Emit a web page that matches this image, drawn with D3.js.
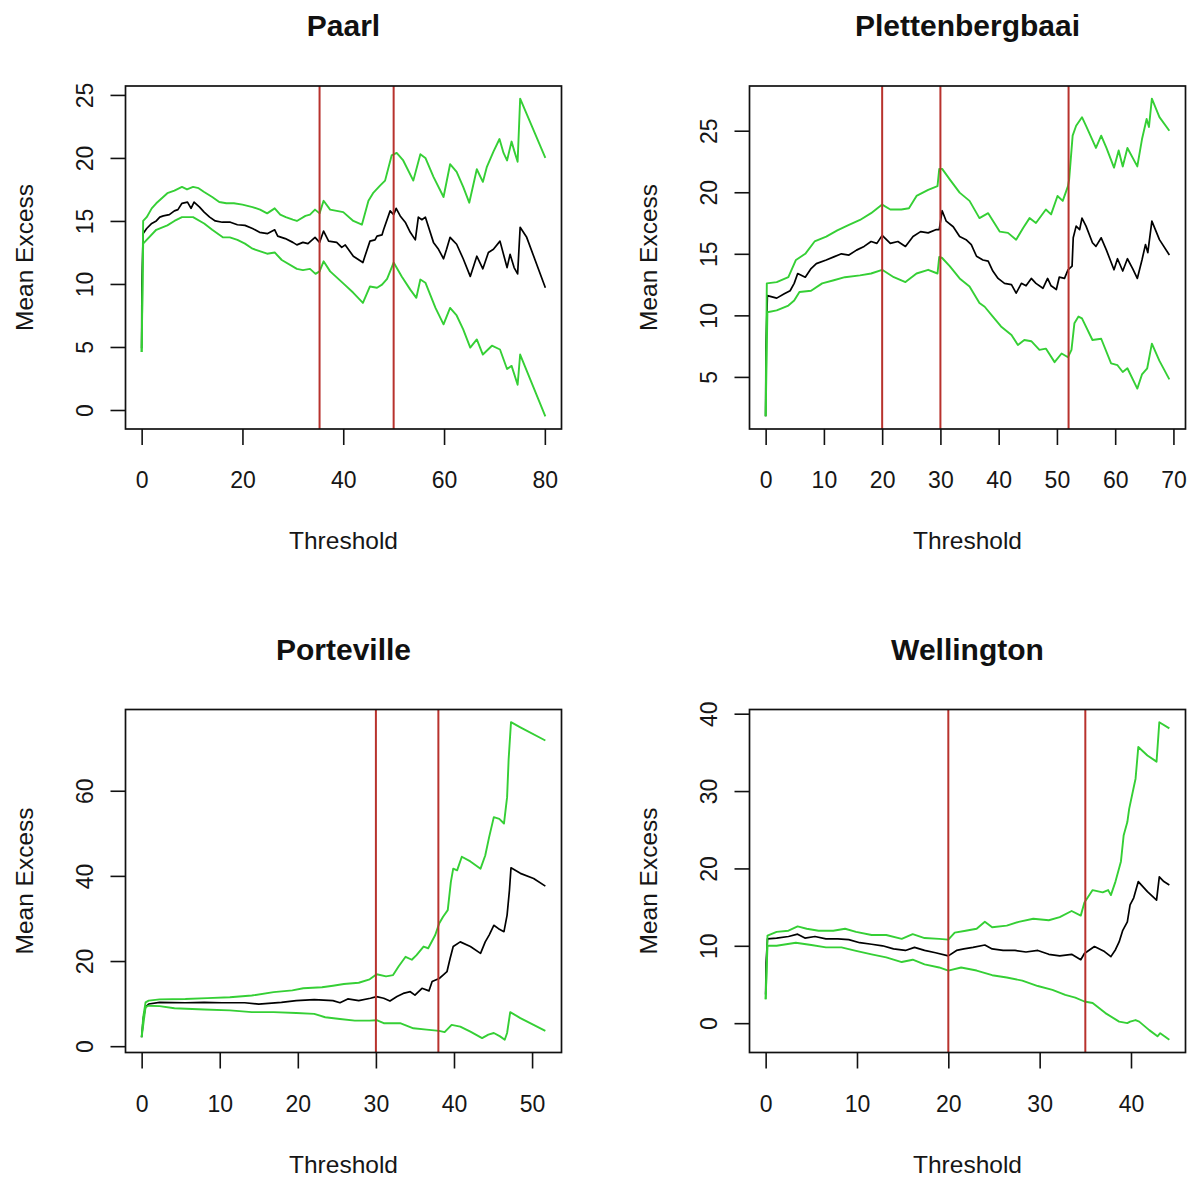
<!DOCTYPE html>
<html>
<head>
<meta charset="utf-8">
<script src="https://cdn.jsdelivr.net/npm/d3@7"></script>
<style>
  html, body { margin: 0; padding: 0; background: #fff; overflow: hidden; }
  text { font-family: "Liberation Sans", Arial, Helvetica, sans-serif; }
</style>
</head>
<body>
<script>
// Mean residual life (mean excess) plots for four rainfall stations.
// Each series is a list of [threshold, value] pairs.

const paarlMean = [[0,4.9],[0.05,10],[0.3,14],[1,14.4],[2,14.8],[2.9,15],[3.6,15.3],[4.3,15.4],[5.5,15.5],[6.5,15.8],[7.2,15.9],[8,16.4],[9.1,16.5],[9.8,16],[10.4,16.5],[11.5,16.1],[12.4,15.7],[13.5,15.3],[14.6,15],[16,14.9],[17.6,14.9],[19,14.7],[20.5,14.65],[22,14.4],[23.4,14.1],[25,14],[26.4,14.3],[27,13.8],[28.5,13.6],[30,13.3],[30.8,13.1],[32,13.3],[33,13.2],[34.4,13.7],[35.3,13.3],[36.1,14.2],[37.1,13.4],[38.7,13.3],[39.7,12.9],[40.4,13.1],[42,12.2],[43.9,11.7],[44.3,12.2],[45.3,13.4],[46.3,13.5],[46.7,13.8],[47.7,13.9],[48,14.3],[49.3,15.8],[50,15.5],[50.5,16],[51.3,15.4],[52.3,14.9],[53.3,14.1],[54.3,13.5],[54.9,15.3],[55.6,15.1],[56.3,15.3],[57.9,13.3],[58.9,12.75],[59.9,12],[60.5,12.75],[61.2,13.7],[61.9,13.4],[62.5,13.15],[63.8,12],[65.2,10.6],[66.5,12.2],[67.7,11.2],[68.8,12.5],[69.8,12.75],[71.1,13.4],[72.5,11.3],[73.1,12.35],[73.9,11.3],[74.6,10.8],[75.1,14.5],[76.4,13.7],[80.1,9.7]];
const paarlUpper = [[0,4.6],[0.3,15],[1,15.3],[2,16],[2.9,16.4],[4,16.8],[5.1,17.2],[6.5,17.4],[8,17.7],[9,17.5],[10.2,17.7],[11.3,17.6],[12.4,17.3],[14,16.9],[15.4,16.5],[16.8,16.4],[18.3,16.4],[20,16.3],[22,16.1],[23.5,15.9],[24.9,15.6],[26.4,16],[27.5,15.5],[28.6,15.3],[30,15.1],[30.8,15],[32.5,15.4],[33.4,15.5],[34.4,15.9],[35.3,15.6],[36.1,16.6],[37.4,15.9],[38.7,15.8],[40,15.7],[42,15],[43.7,14.7],[45,16.6],[46,17.25],[47.3,17.8],[48.3,18.2],[49.6,20.2],[50.6,20.4],[51.9,19.8],[53.9,18.2],[55.3,20.3],[56.3,20],[57.9,18.5],[59.9,16.9],[61.2,19.5],[62.5,18.9],[63.8,17.7],[65,16.45],[66.5,19.1],[67.7,18.1],[68.5,19.3],[69.8,20.5],[71,21.5],[71.8,20.4],[72.5,19.8],[73.4,21.3],[73.9,20.6],[74.6,19.7],[75.1,24.7],[80.1,20]];
const paarlLower = [[0,4.6],[0.3,13.2],[1,13.5],[2.9,14.3],[5.1,14.65],[6.5,15],[8,15.3],[10.2,15.3],[12.4,14.8],[14,14.3],[16.1,13.7],[17.5,13.7],[19,13.5],[20.5,13.2],[22,12.8],[24.9,12.4],[26.4,12.5],[27.8,11.9],[30.8,11.2],[32,11.1],[33.4,11.2],[34.5,10.8],[35.3,11],[36.1,11.8],[37.4,11],[40,10.05],[42,9.3],[43.9,8.5],[45.3,9.8],[46.7,9.7],[47.7,9.95],[48.7,10.4],[50,11.7],[51.6,10.6],[53.3,9.55],[54.5,8.9],[55.3,10.35],[56.3,10.1],[58.3,8.1],[59.9,6.8],[61.2,8.1],[62.5,7.5],[63.8,6.4],[65.2,4.95],[66.5,5.6],[67.7,4.4],[69.5,5.1],[71.1,4.8],[72.5,3.25],[73.4,3.5],[74.6,2],[75.1,4.4],[80.1,-0.5]];
const paarlMarks = [35.3, 50];
const paarlXTicks = [0, 20, 40, 60, 80];
const paarlYTicks = [0, 5, 10, 15, 20, 25];

const plettMean = [[0,1.8],[0.05,7.4],[0.3,11.6],[1.9,11.4],[3.2,11.75],[4.2,12],[4.9,12.6],[5.5,13.4],[6.8,13.1],[7.8,13.8],[8.7,14.2],[10.4,14.5],[11.7,14.75],[13,15],[14.3,14.9],[15.6,15.3],[16.9,15.6],[18.1,16],[19.1,15.85],[20,16.5],[21.4,15.85],[22.7,16],[24,15.6],[25.3,16.4],[26.6,16.8],[27.9,16.7],[29.3,16.97],[29.8,16.97],[30.3,18.5],[31,17.65],[32.2,17.2],[33.3,16.4],[34.4,16.15],[35.3,15.75],[36.2,14.8],[37.3,14.5],[38.2,14.4],[39,13.6],[39.9,13],[41,12.6],[42.2,12.5],[43,11.8],[43.9,12.6],[44.7,12.4],[45.6,13],[46.4,12.6],[47.6,12.2],[48.4,13],[49,12.4],[49.9,12.1],[50.4,13.1],[51.3,13],[51.9,13.7],[52.6,14],[52.8,16.3],[53.3,17.25],[53.9,16.97],[54.3,17.9],[55,17.25],[56.1,15.9],[56.7,15.6],[57.6,16.3],[58.5,15.3],[59.8,13.7],[60.4,14.6],[61.3,13.6],[62.1,14.6],[63,13.8],[63.8,13],[64.6,14.5],[65.2,15.75],[65.6,15.1],[66.3,17.65],[67.6,16.15],[69.3,14.9]];
const plettUpper = [[0,1.8],[0.2,12.6],[1.9,12.7],[3.9,13.1],[5.2,14.5],[6.8,15],[8.4,16],[10.4,16.4],[12.3,16.9],[14.3,17.35],[16.2,17.75],[18.1,18.3],[20,19],[21.4,18.6],[23.3,18.6],[24.6,18.7],[25.9,19.7],[27.9,20.2],[29.5,20.5],[29.8,21.9],[30.3,21.9],[31.6,21.05],[33.3,19.97],[35,19.3],[36.7,17.9],[38.2,18.3],[40.2,16.8],[41.6,16.7],[43,16.15],[44.2,17.1],[45.3,17.9],[46.4,17.5],[48.1,18.6],[49,18.2],[50.1,19.7],[51,19.3],[51.9,20.5],[52.1,21.05],[52.7,24.6],[53.3,25.4],[54.3,26.1],[55,25.4],[56.7,23.6],[57.6,24.6],[58.5,23.6],[59.8,22],[60.6,23.4],[61.3,22.1],[62.1,23.6],[63.8,22.1],[64.6,24.3],[65.4,25.95],[65.8,25.3],[66.3,27.6],[67.6,26.1],[69.3,25]];
const plettLower = [[0,1.8],[0.3,10.25],[1.9,10.4],[3.9,10.8],[4.9,11.2],[5.8,11.9],[7.8,12],[9.7,12.6],[11.7,12.85],[13.6,13.1],[16.2,13.25],[18.1,13.4],[20,13.7],[22,13.1],[24,12.7],[25.9,13.4],[27.9,13.7],[29.5,13.4],[29.8,14.75],[30.3,14.66],[31.6,14],[33.3,13],[35,12.35],[36.7,11],[37.6,10.7],[39,9.9],[40.4,9.1],[42.2,8.4],[43.3,7.6],[44.4,8],[45.6,7.9],[47,7.2],[48.1,7.3],[49.6,6.2],[50.8,6.9],[51.9,6.6],[52.5,7.2],[53,9.35],[53.7,9.9],[54.3,9.75],[56.1,8],[57.6,8.1],[59.3,6.1],[60.4,5.95],[61.3,5.4],[62.1,5.7],[63.8,4.05],[64.6,5.2],[65.5,5.7],[66.3,7.7],[67.6,6.3],[69.3,4.8]];
const plettMarks = [20, 30, 52];
const plettXTicks = [0, 10, 20, 30, 40, 50, 60, 70];
const plettYTicks = [5, 10, 15, 20, 25];

const portMean = [[0,2.1],[0.2,6.4],[0.5,9.2],[0.9,9.9],[2.3,10.3],[5.6,10.2],[8,10.3],[10.3,10.2],[13.2,10.2],[15,9.9],[17.9,10.3],[19.8,10.7],[22.1,10.95],[24.5,10.7],[25.4,10.2],[26.4,11.1],[27.8,10.7],[29.3,11.25],[30.1,11.65],[31,11.25],[31.8,10.6],[32.7,11.65],[33.5,12.4],[34.4,12.8],[35,12],[35.9,13.6],[36.8,13],[37.2,15.2],[38.1,15.9],[38.6,16.7],[39.1,17.5],[39.5,20.6],[39.9,23.4],[40.8,24.5],[42.1,23.4],[43.4,21.8],[44,24.5],[44.5,26.1],[45.1,28.4],[45.7,27.6],[46.4,26.9],[46.8,30.8],[47.1,36.6],[47.3,41.9],[48.5,40.6],[50.2,39.4],[51.7,37.6]];
const portUpper = [[0,2.1],[0.2,6.8],[0.5,10.3],[0.9,10.7],[2.3,11],[5.6,11.1],[8.4,11.3],[11.3,11.5],[14.1,11.9],[16.9,12.7],[19.3,13.1],[20.7,13.6],[23.1,13.85],[24.5,14.2],[25.9,14.6],[27.8,14.9],[29.2,15.7],[30.1,16.9],[31.3,16.4],[32.2,16.7],[32.9,18.7],[33.8,21],[34.6,20.3],[35.2,21.4],[36.1,23.4],[36.7,23],[37.6,26.1],[38.1,28.8],[38.6,30.4],[39.2,31.95],[39.6,38.6],[39.9,41.7],[40.4,41.3],[41,44.5],[42.1,43.4],[43.4,41.7],[44,44.8],[44.5,49.1],[45.1,53.8],[45.8,53.4],[46.4,52.3],[46.8,58.5],[47,67.5],[47.3,76.1],[48.5,74.9],[51.7,71.8]];
const portLower = [[0,2.1],[0.5,9.2],[0.9,9.5],[2.3,9.4],[4.2,8.9],[8,8.6],[11.3,8.4],[14.1,8],[16.9,8],[19.8,7.8],[22.1,7.6],[23.5,6.8],[25.4,6.4],[27.3,6],[29.2,6],[30.1,6.1],[31,5.4],[33.1,5.4],[34.8,4.2],[36.5,3.9],[38.1,3.6],[38.8,3.3],[39.7,5],[40.8,4.6],[42.1,3.4],[43.6,1.9],[44.4,2.7],[45.1,3.1],[45.9,2.3],[46.5,1.5],[46.8,3.1],[47.2,8],[48.5,6.6],[51.7,3.6]];
const portMarks = [30, 38];
const portXTicks = [0, 10, 20, 30, 40, 50];
const portYTicks = [0, 20, 40, 60];

const wellMean = [[0,3.7],[0.05,7.8],[0.2,10.9],[1.2,11],[2.5,11.2],[3.5,11.5],[4.3,11],[5.4,11.2],[6.6,10.9],[7.9,10.9],[9.1,10.8],[10.3,10.4],[11.6,10.2],[12.8,10],[14,9.6],[15.3,9.4],[16.3,9.8],[17.4,9.4],[18.6,9.1],[20,8.7],[20.9,9.4],[21.7,9.6],[22.7,9.8],[24,10.1],[24.8,9.6],[26,9.4],[27.3,9.4],[28.5,9.2],[29.8,9.4],[31,8.9],[32.2,8.7],[33.5,8.9],[34.5,8.2],[34.9,9],[36,9.9],[37.1,9.25],[37.8,8.6],[38.3,9.5],[38.7,10.5],[39.1,12],[39.6,13.1],[39.9,15.3],[40.3,16.2],[40.8,18.3],[41.8,17],[42.8,15.9],[43.1,18.9],[43.6,18.3],[44.2,17.85]];
const wellUpper = [[0,3.1],[0.2,11.3],[1.2,11.8],[2.5,11.95],[3.5,12.5],[4.5,12.2],[5.8,11.95],[7.4,11.95],[8.7,12.2],[9.9,11.8],[11.6,11.4],[13.2,11.4],[14.9,10.9],[16.1,11.5],[17.4,11],[19,10.9],[20,10.8],[20.7,11.7],[21.9,11.95],[23.1,12.2],[24,13.1],[24.8,12.4],[26.4,12.6],[27.7,13.1],[29.3,13.5],[31,13.3],[32.2,13.7],[33.5,14.5],[34.5,13.9],[34.9,15.6],[35.8,17.2],[36.9,16.9],[37.5,17.2],[37.8,16.55],[38.3,18.3],[38.9,20.9],[39.2,24.3],[39.6,26],[39.8,27.7],[40.3,30.5],[40.5,31.6],[40.8,35.7],[41.8,34.6],[42.8,33.8],[43.1,38.9],[44.2,38.1]];
const wellLower = [[0,3.1],[0.2,10],[1.2,10],[3.3,10.4],[5,10.1],[6.6,9.8],[8.3,9.8],[9.9,9.35],[11.6,8.9],[13.2,8.5],[14.9,7.9],[16.1,8.2],[17.4,7.6],[19,7.2],[20,6.8],[21.4,7.2],[23.1,6.8],[24.8,6.2],[26.4,5.9],[28.1,5.5],[29.8,4.8],[31.4,4.3],[32.8,3.65],[33.9,3.3],[34.9,2.8],[35.8,2.6],[37.2,1.3],[38.7,0.2],[39.6,0],[39.9,0.2],[40.5,0.4],[40.9,0.2],[42,-0.9],[42.9,-1.7],[43.2,-1.3],[44.2,-2.15]];
const wellMarks = [20, 35];
const wellXTicks = [0, 10, 20, 30, 40];
const wellYTicks = [0, 10, 20, 30, 40];

const stations = ["Paarl", "Plettenbergbaai", "Porteville", "Wellington"];
const xTitle = "Threshold";
const yTitle = "Mean Excess";

// ---- layout -------------------------------------------------------------
const W = 1193, H = 1179;
const colX = [125.5, 749.5];
const rowY = [86, 709.5];
const boxW = 436, boxH = 343;

const panels = [
  { name: stations[0], mean: paarlMean, hi: paarlUpper, lo: paarlLower, marks: paarlMarks, xt: paarlXTicks, yt: paarlYTicks, c: 0, r: 0 },
  { name: stations[1], mean: plettMean, hi: plettUpper, lo: plettLower, marks: plettMarks, xt: plettXTicks, yt: plettYTicks, c: 1, r: 0 },
  { name: stations[2], mean: portMean,  hi: portUpper,  lo: portLower,  marks: portMarks,  xt: portXTicks,  yt: portYTicks,  c: 0, r: 1 },
  { name: stations[3], mean: wellMean,  hi: wellUpper,  lo: wellLower,  marks: wellMarks,  xt: wellXTicks,  yt: wellYTicks,  c: 1, r: 1 }
];

const GREEN = "#35cf35", RED = "#b8322d", INK = "#161616";

const svg = d3.select("body").append("svg")
  .attr("width", W).attr("height", H)
  .attr("viewBox", `0 0 ${W} ${H}`);
svg.append("rect").attr("width", W).attr("height", H).attr("fill", "#fff");

// extend a range by 4% on each side
function padded(ext) {
  const d = (ext[1] - ext[0]) * 0.04;
  return [ext[0] - d, ext[1] + d];
}

panels.forEach((p, i) => {
  const g = svg.append("g").attr("transform", `translate(${colX[p.c]},${rowY[p.r]})`);
  const all = p.mean.concat(p.hi, p.lo);
  const x = d3.scaleLinear().domain(padded(d3.extent(all, d => d[0]))).range([0, boxW]);
  const y = d3.scaleLinear().domain(padded(d3.extent(all, d => d[1]))).range([boxH, 0]);

  const clipId = "clip" + i;
  g.append("clipPath").attr("id", clipId)
    .append("rect").attr("width", boxW).attr("height", boxH);

  const line = d3.line().x(d => x(d[0])).y(d => y(d[1]));
  const plot = g.append("g").attr("clip-path", `url(#${clipId})`);

  plot.append("path").datum(p.mean).attr("d", line)
    .attr("fill", "none").attr("stroke", "#000").attr("stroke-width", 1.7)
    .attr("stroke-linejoin", "round");
  [p.hi, p.lo].forEach(s => {
    plot.append("path").datum(s).attr("d", line)
      .attr("fill", "none").attr("stroke", GREEN).attr("stroke-width", 1.9)
      .attr("stroke-linejoin", "round");
  });

  plot.selectAll("line.mark").data(p.marks).enter().append("line")
    .attr("class", "mark")
    .attr("x1", d => x(d)).attr("x2", d => x(d))
    .attr("y1", 0).attr("y2", boxH)
    .attr("stroke", RED).attr("stroke-width", 2);

  // frame
  g.append("rect").attr("width", boxW).attr("height", boxH)
    .attr("fill", "none").attr("stroke", "#111").attr("stroke-width", 1.7);

  // x axis
  const xa = g.append("g").attr("transform", `translate(0,${boxH})`)
    .call(d3.axisBottom(x).tickValues(p.xt).tickSize(16).tickPadding(27).tickFormat(d3.format("d")));
  xa.select(".domain").remove();
  xa.selectAll(".tick line").attr("stroke", "#111").attr("stroke-width", 1.6);
  xa.selectAll(".tick text").attr("fill", INK).style("font-size", "23px");

  // y axis with labels running parallel to the axis
  const ya = g.append("g")
    .call(d3.axisLeft(y).tickValues(p.yt).tickSize(15).tickFormat(d3.format("d")));
  ya.select(".domain").remove();
  ya.selectAll(".tick line").attr("stroke", "#111").attr("stroke-width", 1.6);
  ya.selectAll(".tick text")
    .attr("fill", INK).style("font-size", "23px")
    .attr("transform", "rotate(-90)")
    .attr("x", 0).attr("y", -33).attr("dy", null)
    .attr("text-anchor", "middle");

  // titles
  g.append("text").attr("x", boxW / 2).attr("y", -50)
    .attr("text-anchor", "middle").attr("fill", "#111")
    .style("font-size", "30px").style("font-weight", "bold")
    .text(p.name);
  g.append("text").attr("x", boxW / 2).attr("y", boxH + 120)
    .attr("text-anchor", "middle").attr("fill", INK)
    .style("font-size", "24.5px").text(xTitle);
  g.append("text")
    .attr("transform", `translate(${-92.5},${boxH / 2}) rotate(-90)`)
    .attr("text-anchor", "middle").attr("fill", INK)
    .style("font-size", "24.5px").text(yTitle);
});
</script>
</body>
</html>
